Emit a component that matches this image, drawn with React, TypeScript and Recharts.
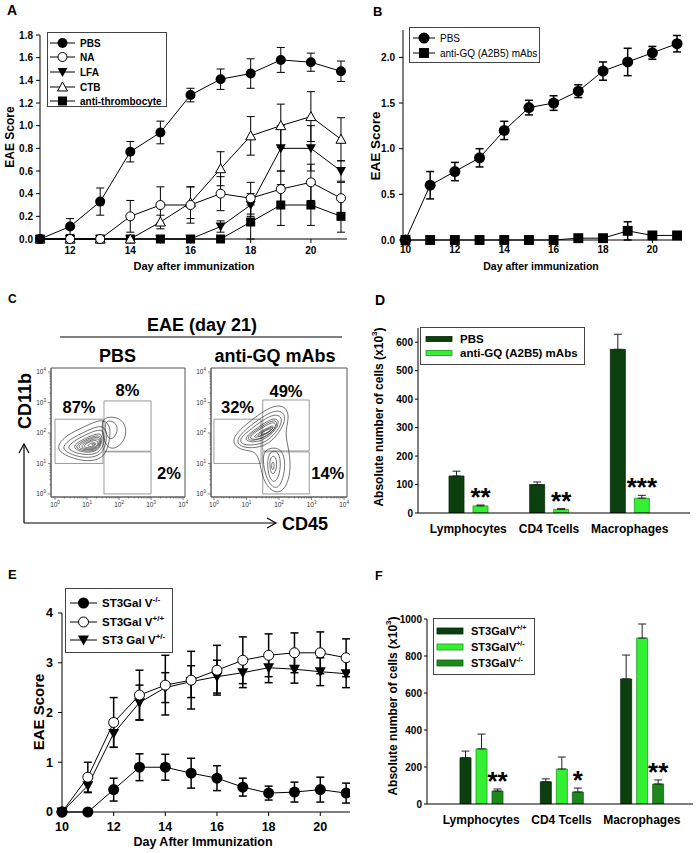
import React from "react";
import {
  LineChart,
  Line,
  XAxis,
  YAxis,
  ErrorBar,
  Legend,
  BarChart,
  Bar,
  LabelList,
  ComposedChart,
  ReferenceArea,
} from "recharts";

const FONT = "'Liberation Sans', Arial, Helvetica, sans-serif";
const DARK = "#0b3f0d";
const LIGHT = "#33f033";
const MID = "#1b8a1b";

// ---- A: EAE score after treatments ----
const daysA = [11, 12, 13, 14, 15, 16, 17, 18, 19, 20, 21];
const pbsA = [0, 0.11, 0.33, 0.77, 0.94, 1.27, 1.41, 1.46, 1.58, 1.56, 1.48];
const pbsAErr = [0, 0.07, 0.12, 0.09, 0.1, 0.06, 0.09, 0.13, 0.11, 0.08, 0.09];
const naA = [0, 0, 0, 0.2, 0.3, 0.3, 0.4, 0.36, 0.44, 0.5, 0.36];
const naAErr = [0, 0, 0, 0.14, 0.16, 0.16, 0.15, 0.14, 0.16, 0.16, 0.14];
const lfaA = [0, 0, 0, 0, 0, 0, 0.11, 0.3, 0.8, 0.8, 0.6];
const lfaAErr = [0, 0, 0, 0, 0, 0, 0.05, 0.1, 0.2, 0.2, 0.09];
const ctbA = [0, 0, 0, 0, 0.15, 0.32, 0.62, 0.91, 1.0, 1.08, 0.88];
const ctbAErr = [0, 0, 0, 0, 0.06, 0.14, 0.15, 0.17, 0.19, 0.22, 0.19];
const thrA = [0, 0, 0, 0, 0, 0, 0, 0.15, 0.3, 0.3, 0.2];
const thrAErr = [0, 0, 0, 0, 0, 0, 0, 0.15, 0.18, 0.18, 0.14];
const ticksAX = [12, 14, 16, 18, 20];
const ticksAY = [0, 0.2, 0.4, 0.6, 0.8, 1.0, 1.2, 1.4, 1.6, 1.8];

// ---- B: PBS vs anti-GQ ----
const daysB = [10, 11, 12, 13, 14, 15, 16, 17, 18, 19, 20, 21];
const pbsB = [0, 0.6, 0.75, 0.9, 1.2, 1.45, 1.5, 1.63, 1.85, 1.95, 2.05, 2.15];
const pbsBErr = [0, 0.15, 0.1, 0.1, 0.1, 0.08, 0.08, 0.07, 0.1, 0.15, 0.07, 0.09];
const gqB = [0, 0, 0, 0, 0, 0, 0, 0.02, 0.02, 0.1, 0.05, 0.05];
const gqBErr = [0, 0, 0, 0, 0, 0, 0, 0.02, 0.02, 0.1, 0.02, 0.02];
const ticksBX = [10, 12, 14, 16, 18, 20];
const ticksBY = [0, 0.5, 1.0, 1.5, 2.0];

// ---- C: flow cytometry (log10 units) ----
const logMajor = [0, 1, 2, 3, 4];
const logMinor = [0.301, 0.477, 0.602, 0.699, 0.778, 0.845, 0.903, 0.954];
const logTicks = logMajor.concat(
  [0, 1, 2, 3].flatMap((d) => logMinor.map((m) => d + m)),
);
const gatesPbs = [
  { x1: 0, x2: 1.5, y1: 1.0, y2: 2.45, pct: "87%" },
  { x1: 1.53, x2: 3.0, y1: 1.4, y2: 3.05, pct: "8%" },
  { x1: 1.53, x2: 3.0, y1: 0, y2: 1.38, pct: "2%" },
];
const gatesGq = [
  { x1: 0, x2: 1.45, y1: 1.0, y2: 2.45, pct: "32%" },
  { x1: 1.5, x2: 2.93, y1: 1.41, y2: 3.08, pct: "49%" },
  { x1: 1.5, x2: 2.93, y1: 0, y2: 1.38, pct: "14%" },
];
type Pt = { x: number; y: number };
const pts = (a: number[][]): Pt[] => a.map(([x, y]) => ({ x, y }));
const contoursPbs: Pt[][] = [
  pts([[1.4, 2.45], [1.75, 2.55], [2.1, 2.45], [2.25, 2.1], [2.15, 1.7], [1.85, 1.45], [1.55, 1.55]]),
  pts([[1.5, 2.38], [1.8, 2.42], [1.98, 2.2], [1.9, 1.88], [1.65, 1.72]]),
  pts([[0.05, 1.55], [0.3, 1.88], [0.7, 2.1], [1.1, 2.3], [1.45, 2.45], [1.75, 2.28], [1.7, 1.7], [1.55, 1.2], [1.1, 1.05], [0.6, 1.15], [0.2, 1.33]]),
  pts([[0.22, 1.55], [0.5, 1.82], [0.9, 2.02], [1.3, 2.22], [1.58, 2.22], [1.63, 1.75], [1.47, 1.28], [1.05, 1.17], [0.6, 1.25], [0.33, 1.4]]),
  pts([[0.4, 1.56], [0.65, 1.78], [1.0, 1.96], [1.35, 2.12], [1.53, 2.06], [1.55, 1.7], [1.4, 1.35], [1.05, 1.27], [0.65, 1.34], [0.45, 1.45]]),
  pts([[0.55, 1.56], [0.8, 1.75], [1.1, 1.9], [1.38, 2.0], [1.48, 1.9], [1.45, 1.6], [1.3, 1.4], [1.0, 1.35], [0.7, 1.42]]),
  pts([[0.62, 1.56], [0.88, 1.74], [1.15, 1.87], [1.4, 1.94], [1.45, 1.75], [1.36, 1.45], [1.03, 1.39], [0.75, 1.45]]),
  pts([[0.7, 1.57], [0.95, 1.73], [1.2, 1.85], [1.4, 1.88], [1.42, 1.65], [1.3, 1.48], [1.05, 1.43], [0.8, 1.48]]),
  pts([[0.78, 1.57], [1.02, 1.72], [1.25, 1.82], [1.4, 1.8], [1.36, 1.56], [1.15, 1.46], [0.9, 1.49]]),
  pts([[0.85, 1.58], [1.1, 1.72], [1.3, 1.78], [1.37, 1.65], [1.25, 1.52], [1.0, 1.5]]),
  pts([[1.0, 1.6], [1.2, 1.7], [1.31, 1.66], [1.23, 1.56], [1.05, 1.55]]),
  pts([[1.1, 1.62], [1.26, 1.67], [1.23, 1.58]]),
];
const contoursGq: Pt[][] = [
  pts([[0.5, 1.75], [0.9, 2.22], [1.4, 2.62], [1.85, 2.92], [2.22, 2.87], [2.32, 2.5], [2.17, 2.0], [2.32, 1.4], [2.37, 0.7], [2.17, 0.08], [1.8, 0.02], [1.48, 0.5], [1.4, 1.2], [1.2, 1.43], [0.8, 1.43]]),
  pts([[0.65, 1.75], [1.0, 2.15], [1.45, 2.5], [1.85, 2.75], [2.15, 2.7], [2.2, 2.4], [2.0, 2.0], [1.7, 1.65], [1.3, 1.5], [0.85, 1.52]]),
  pts([[0.75, 1.78], [1.1, 2.1], [1.5, 2.42], [1.85, 2.62], [2.08, 2.55], [2.08, 2.3], [1.9, 2.0], [1.6, 1.7], [1.25, 1.6], [0.9, 1.6]]),
  pts([[0.9, 1.8], [1.2, 2.07], [1.55, 2.33], [1.85, 2.5], [2.0, 2.4], [1.95, 2.18], [1.75, 1.95], [1.5, 1.75], [1.15, 1.68]]),
  pts([[0.97, 1.81], [1.25, 2.06], [1.58, 2.29], [1.85, 2.44], [1.96, 2.32], [1.87, 2.12], [1.65, 1.9], [1.2, 1.72]]),
  pts([[1.05, 1.83], [1.3, 2.05], [1.6, 2.25], [1.85, 2.38], [1.92, 2.25], [1.8, 2.05], [1.55, 1.85], [1.25, 1.77]]),
  pts([[1.2, 1.87], [1.45, 2.05], [1.7, 2.2], [1.85, 2.25], [1.8, 2.1], [1.55, 1.93], [1.3, 1.85]]),
  pts([[1.3, 1.9], [1.55, 2.08], [1.78, 2.2], [1.83, 2.17], [1.68, 2.02], [1.4, 1.89]]),
  pts([[1.4, 1.95], [1.65, 2.12], [1.8, 2.16], [1.7, 2.03], [1.5, 1.95]]),
  pts([[1.55, 1.5], [2.1, 1.55], [2.22, 0.9], [2.05, 0.22], [1.8, 0.17], [1.58, 0.6], [1.5, 1.1]]),
  pts([[1.65, 1.4], [2.0, 1.45], [2.07, 0.9], [1.95, 0.42], [1.77, 0.38], [1.64, 0.75]]),
  pts([[1.72, 1.25], [1.92, 1.25], [1.94, 0.85], [1.82, 0.58], [1.71, 0.8]]),
  pts([[1.77, 1.05], [1.86, 1.05], [1.85, 0.8], [1.77, 0.78]]),
];

// ---- D: cell counts, PBS vs anti-GQ ----
const cellTypes = ["Lymphocytes", "CD4 Tcells", "Macrophages"];
const pbsCells = [130, 100, 575];
const pbsCellsErr = [17, 9, 53];
const gqCells = [25, 13, 52];
const gqCellsErr = [3, 2, 10];
const gqStars = ["**", "**", "***"];
const ticksD = [0, 100, 200, 300, 400, 500, 600];

// ---- E: ST3Gal V genotypes ----
const daysE = [10, 11, 12, 13, 14, 15, 16, 17, 18, 19, 20, 21];
const koE = [0, 0, 0.45, 0.9, 0.9, 0.78, 0.68, 0.5, 0.38, 0.4, 0.45, 0.38];
const koEErr = [0, 0, 0.23, 0.27, 0.26, 0.3, 0.25, 0.18, 0.14, 0.2, 0.25, 0.2];
const wtE = [0, 0.7, 1.8, 2.35, 2.55, 2.65, 2.85, 3.05, 3.15, 3.2, 3.2, 3.1];
const wtEErr = [0, 0.3, 0.5, 0.5, 0.6, 0.58, 0.5, 0.47, 0.43, 0.4, 0.42, 0.38];
const hetE = [0, 0.53, 1.58, 2.2, 2.5, 2.62, 2.72, 2.8, 2.9, 2.87, 2.82, 2.78];
const hetEErr = [0, 0.14, 0.28, 0.35, 0.3, 0.32, 0.33, 0.3, 0.3, 0.28, 0.28, 0.28];
const ticksEX = [10, 12, 14, 16, 18, 20];
const ticksEY = [0, 1, 2, 3, 4];

// ---- F: cell counts by genotype ----
const wtCells = [250, 120, 676];
const wtCellsErr = [36, 16, 129];
const hetCells = [298, 189, 897];
const hetCellsErr = [80, 65, 76];
const koCells = [70, 65, 108];
const koCellsErr = [11, 21, 22];
const koStars = ["**", "*", "**"];
const ticksF = [0, 200, 400, 600, 800, 1000];

type Kind = "fc" | "oc" | "dt" | "ut" | "fs";

function Marker({ kind, cx, cy, s }: { kind: Kind; cx: number; cy: number; s: number }) {
  const h = s / 2;
  if (kind === "fc") return <circle cx={cx} cy={cy} r={h} fill="#000" />;
  if (kind === "oc")
    return <circle cx={cx} cy={cy} r={h - 0.5} fill="#fff" stroke="#000" strokeWidth={1} />;
  if (kind === "dt")
    return (
      <polygon
        points={`${cx - h},${cy - h * 0.8} ${cx + h},${cy - h * 0.8} ${cx},${cy + h}`}
        fill="#000"
      />
    );
  if (kind === "ut")
    return (
      <polygon
        points={`${cx},${cy - h} ${cx + h},${cy + h * 0.8} ${cx - h},${cy + h * 0.8}`}
        fill="#fff"
        stroke="#000"
        strokeWidth={1}
      />
    );
  return <rect x={cx - h * 0.9} y={cy - h * 0.9} width={h * 1.8} height={h * 1.8} fill="#000" />;
}

const dotOf = (kind: Kind, s: number) => (p: any) =>
  p.cx == null ? <g key={`n${p.index}`} /> : <Marker key={`d${p.index}`} kind={kind} cx={p.cx} cy={p.cy} s={s} />;

interface LegendRow {
  label: React.ReactNode;
  kind?: Kind;
  fill?: string;
  stroke?: string;
}

function LegendBox(props: {
  rows: LegendRow[];
  w: number;
  h: number;
  ys: number[];
  sample: [number, number];
  textX: number;
  fontSize: number;
  weight?: string;
  size?: number;
  swatchH?: number;
}) {
  const { rows, w, h, ys, sample, textX, fontSize, weight = "bold", size = 10, swatchH } = props;
  return (
    <svg width={w} height={h} style={{ display: "block" }}>
      <rect x={0.5} y={0.5} width={w - 1} height={h - 1} fill="#fff" stroke="#444" />
      {rows.map((r, i) => (
        <g key={i}>
          {swatchH ? (
            <rect
              x={sample[0]}
              y={ys[i] - swatchH / 2}
              width={sample[1] - sample[0]}
              height={swatchH}
              fill={r.fill}
              stroke={r.stroke}
              strokeWidth={0.8}
            />
          ) : (
            <>
              <line x1={sample[0]} x2={sample[1]} y1={ys[i]} y2={ys[i]} stroke="#000" />
              <Marker kind={r.kind as Kind} cx={(sample[0] + sample[1]) / 2} cy={ys[i]} s={size} />
            </>
          )}
          <text
            x={textX}
            y={ys[i]}
            dominantBaseline="central"
            fontFamily={FONT}
            fontSize={fontSize}
            fontWeight={weight}
            fill="#000"
          >
            {r.label}
          </text>
        </g>
      ))}
    </svg>
  );
}

function AxisTitle(props: any) {
  const { tx, ty, rot, size, children } = props;
  return (
    <text
      x={tx}
      y={ty}
      transform={rot ? `rotate(-90 ${tx} ${ty})` : undefined}
      textAnchor="middle"
      dominantBaseline={rot ? "central" : "auto"}
      fontFamily={FONT}
      fontSize={size}
      fontWeight="bold"
      fill="#000"
    >
      {children}
    </text>
  );
}

const tickStyle = (size: number) => ({
  fontSize: size,
  fontWeight: "bold",
  fill: "#000",
  fontFamily: FONT,
});

function PanelA() {
  const rows = daysA.map((d, i) => ({
    day: d,
    pbs: pbsA[i],
    pbsErr: pbsAErr[i],
    na: naA[i],
    naErr: naAErr[i],
    lfa: lfaA[i],
    lfaErr: lfaAErr[i],
    ctb: ctbA[i],
    ctbErr: ctbAErr[i],
    thr: thrA[i],
    thrErr: thrAErr[i],
  }));
  const series: { key: string; kind: Kind; name: string }[] = [
    { key: "thr", kind: "fs", name: "anti-thrombocyte" },
    { key: "lfa", kind: "dt", name: "LFA" },
    { key: "ctb", kind: "ut", name: "CTB" },
    { key: "na", kind: "oc", name: "NA" },
    { key: "pbs", kind: "fc", name: "PBS" },
  ];
  const legendRows: LegendRow[] = [
    { label: "PBS", kind: "fc" },
    { label: "NA", kind: "oc" },
    { label: "LFA", kind: "dt" },
    { label: "CTB", kind: "ut" },
    { label: "anti-thrombocyte", kind: "fs" },
  ];
  return (
    <LineChart width={350} height={290} data={rows} margin={{ top: 35, right: 3, bottom: 11, left: 0 }}>
      <XAxis
        dataKey="day"
        type="number"
        domain={[11, 21.2]}
        ticks={ticksAX}
        interval={0}
        tick={tickStyle(10)}
        tickSize={4}
        tickMargin={4}
        stroke="#000"
        height={40}
        label={<AxisTitle tx={194} ty={270} size={11}>Day after immunization</AxisTitle>}
      />
      <YAxis
        type="number"
        domain={[0, 1.8]}
        ticks={ticksAY}
        interval={0}
        tickFormatter={(v: number) => v.toFixed(1)}
        tick={tickStyle(10)}
        tickSize={4}
        tickMargin={3}
        stroke="#000"
        width={40}
        label={<AxisTitle tx={10} ty={137} rot size={12}>EAE Score</AxisTitle>}
      />
      <Legend
        layout="vertical"
        align="center"
        verticalAlign="middle"
        wrapperStyle={{ left: 47, top: 32, width: 120, height: 75 }}
        content={() => (
          <LegendBox rows={legendRows} w={120} h={75} ys={[11, 25, 40, 55, 69]} sample={[3, 28]} textX={33} fontSize={10} size={10} />
        )}
      />
      {series.map((s) => (
        <Line
          key={s.key}
          dataKey={s.key}
          name={s.name}
          type="linear"
          stroke="#000"
          strokeWidth={1}
          dot={dotOf(s.kind, 10)}
          activeDot={false}
          isAnimationActive={false}
        >
          <ErrorBar dataKey={`${s.key}Err`} width={4} stroke="#000" strokeWidth={1} />
        </Line>
      ))}
    </LineChart>
  );
}

function PanelB() {
  const rows = daysB.map((d, i) => ({ day: d, pbs: pbsB[i], pbsErr: pbsBErr[i], gq: gqB[i], gqErr: gqBErr[i] }));
  const legendRows: LegendRow[] = [
    { label: "PBS", kind: "fc" },
    { label: "anti-GQ (A2B5) mAbs", kind: "fs" },
  ];
  return (
    <LineChart width={347} height={290} data={rows} margin={{ top: 30, right: 15, bottom: 10, left: 0 }}>
      <XAxis
        dataKey="day"
        type="number"
        domain={[9.9, 21.2]}
        ticks={ticksBX}
        interval={0}
        tick={tickStyle(10)}
        tickSize={3}
        tickMargin={3}
        stroke="#000"
        height={40}
        label={<AxisTitle tx={191} ty={270} size={10.5}>Day after immunization</AxisTitle>}
      />
      <YAxis
        type="number"
        domain={[0, 2.3]}
        ticks={ticksBY}
        interval={0}
        tickFormatter={(v: number) => v.toFixed(1)}
        tick={tickStyle(10)}
        tickSize={4}
        tickMargin={4}
        stroke="#000"
        width={53}
        label={<AxisTitle tx={25} ty={146} rot size={13.5}>EAE Score</AxisTitle>}
      />
      <Legend
        layout="vertical"
        align="center"
        verticalAlign="middle"
        wrapperStyle={{ left: 59, top: 27, width: 131, height: 36 }}
        content={() => (
          <LegendBox rows={legendRows} w={131} h={36} ys={[11, 26]} sample={[4, 26]} textX={31} fontSize={10} weight="normal" size={11} />
        )}
      />
      <Line dataKey="gq" type="linear" stroke="#000" dot={dotOf("fs", 11)} activeDot={false} isAnimationActive={false}>
        <ErrorBar dataKey="gqErr" width={4} stroke="#000" />
      </Line>
      <Line dataKey="pbs" type="linear" stroke="#000" dot={dotOf("fc", 11)} activeDot={false} isAnimationActive={false}>
        <ErrorBar dataKey="pbsErr" width={4} stroke="#000" />
      </Line>
    </LineChart>
  );
}

function LogTick(props: any) {
  const { x, y, payload, axis } = props;
  const v = payload.value as number;
  const major = Math.abs(v - Math.round(v)) < 1e-6;
  const len = major ? 3 : 1.5;
  if (axis === "x") {
    return (
      <g>
        <line x1={x} x2={x} y1={y} y2={y + len} stroke="#555" strokeWidth={0.7} />
        {major && (
          <text x={x} y={y + 10} textAnchor="middle" fontSize={6.5} fontFamily={FONT} fill="#333">
            10<tspan dy={-3} fontSize={4.5}>{Math.round(v)}</tspan>
          </text>
        )}
      </g>
    );
  }
  return (
    <g>
      <line x1={x} x2={x - len} y1={y} y2={y} stroke="#555" strokeWidth={0.7} />
      {major && (
        <text x={x - 5} y={y + 2.5} textAnchor="end" fontSize={6.5} fontFamily={FONT} fill="#333">
          10<tspan dy={-3} fontSize={4.5}>{Math.round(v)}</tspan>
        </text>
      )}
    </g>
  );
}

const yDomainC: [number, number] = [-0.1, 4.13];

function FlowPlot({
  contours,
  gates,
  xDomain,
  right,
  labelPos,
  labelOffset,
}: {
  contours: Pt[][];
  gates: typeof gatesPbs;
  xDomain: [number, number];
  right: number;
  labelPos: ("top" | "right")[];
  labelOffset: number[];
}) {
  return (
    <ComposedChart width={160} height={150} margin={{ top: 8, right, bottom: 3, left: 0 }}>
      <XAxis
        type="number"
        dataKey="x"
        domain={xDomain}
        ticks={logTicks}
        interval={0}
        tickSize={0}
        tickMargin={0}
        tick={<LogTick axis="x" />}
        stroke="#666"
        height={10}
        allowDataOverflow
      />
      <YAxis
        type="number"
        dataKey="y"
        domain={yDomainC}
        ticks={logTicks}
        interval={0}
        tickSize={0}
        tickMargin={0}
        tick={<LogTick axis="y" />}
        stroke="#666"
        width={21}
        allowDataOverflow
      />
      <ReferenceArea
        x1={xDomain[0]}
        x2={xDomain[1]}
        y1={yDomainC[0]}
        y2={yDomainC[1]}
        fill="none"
        stroke="#555"
        strokeWidth={1}
      />
      {contours.map((c, i) => (
        <Line
          key={i}
          data={c}
          dataKey="y"
          type="basisClosed"
          dot={false}
          activeDot={false}
          stroke="#262626"
          strokeWidth={0.65}
          isAnimationActive={false}
        />
      ))}
      {gates.map((g, i) => (
        <ReferenceArea
          key={g.pct}
          x1={g.x1}
          x2={g.x2}
          y1={g.y1}
          y2={g.y2}
          fill="none"
          stroke="#9a9a9a"
          strokeWidth={1}
          label={{
            value: g.pct,
            position: labelPos[i],
            offset: labelOffset[i],
            fill: "#000",
            fontSize: 16.5,
            fontWeight: "bold",
            fontFamily: FONT,
          }}
        />
      ))}
    </ComposedChart>
  );
}

function starLabel(values: number[], errs: number[], stars: string[]) {
  return (p: any) => {
    const { x, y, width, height, index } = p;
    const v = values[index];
    if (!v || !height) return null;
    const errTop = y - (errs[index] * height) / v;
    return (
      <text
        key={`s${index}`}
        x={x + width / 2}
        y={errTop + 1}
        textAnchor="middle"
        fontFamily={FONT}
        fontSize={26}
        fontWeight="bold"
        fill="#000"
      >
        {stars[index]}
      </text>
    );
  };
}

function Cells3Title({ tx, ty }: { tx: number; ty: number }) {
  return (
    <AxisTitle tx={tx} ty={ty} rot size={12}>
      Absolute number of cells (x10<tspan dy={-5} fontSize={8}>3</tspan>
      <tspan dy={5}>)</tspan>
    </AxisTitle>
  );
}

function PanelD() {
  const rows = cellTypes.map((c, i) => ({
    cell: c,
    pbs: pbsCells[i],
    pbsErr: [0, pbsCellsErr[i]],
    gq: gqCells[i],
    gqErr: [0, gqCellsErr[i]],
  }));
  const legendRows: LegendRow[] = [
    { label: "PBS", fill: DARK, stroke: "#072807" },
    { label: "anti-GQ (A2B5) mAbs", fill: LIGHT, stroke: "#1f9a1f" },
  ];
  return (
    <BarChart width={347} height={260} data={rows} margin={{ top: 38, right: 7, bottom: 7, left: 0 }} barSize={15} barGap={9}>
      <XAxis
        dataKey="cell"
        tickLine={false}
        tickSize={0}
        tickMargin={11}
        padding={{ left: 10, right: 20 }}
        stroke="#000"
        tick={tickStyle(12)}
        height={30}
        interval={0}
      />
      <YAxis
        domain={[0, 650]}
        ticks={ticksD}
        interval={0}
        width={68}
        tickSize={3}
        tickMargin={2}
        stroke="#000"
        tick={tickStyle(10)}
        allowDataOverflow
        label={<Cells3Title tx={29} ty={127} />}
      />
      <Legend
        layout="vertical"
        align="center"
        verticalAlign="middle"
        wrapperStyle={{ left: 70, top: 37, width: 165, height: 38 }}
        content={() => (
          <LegendBox rows={legendRows} w={165} h={38} ys={[12, 26]} sample={[6, 32]} textX={40} fontSize={11.5} swatchH={5} />
        )}
      />
      <Bar dataKey="pbs" fill={DARK} stroke="#072807" strokeWidth={0.8} isAnimationActive={false}>
        <ErrorBar dataKey="pbsErr" width={4} stroke="#222" strokeWidth={1} />
      </Bar>
      <Bar dataKey="gq" fill={LIGHT} stroke="#1f9a1f" strokeWidth={0.8} isAnimationActive={false}>
        <ErrorBar dataKey="gqErr" width={4} stroke="#222" strokeWidth={1} />
        <LabelList dataKey="gq" content={starLabel(gqCells, gqCellsErr, gqStars)} />
      </Bar>
    </BarChart>
  );
}

function PanelE() {
  const rows = daysE.map((d, i) => ({
    day: d,
    ko: koE[i],
    koErr: koEErr[i],
    wt: wtE[i],
    wtErr: wtEErr[i],
    het: hetE[i],
    hetErr: hetEErr[i],
  }));
  const legendRows: LegendRow[] = [
    { label: <>ST3Gal V<tspan dy={-4} fontSize={8}>-/-</tspan></>, kind: "fc" },
    { label: <>ST3Gal V<tspan dy={-4} fontSize={8}>+/+</tspan></>, kind: "oc" },
    { label: <>ST3 Gal V<tspan dy={-4} fontSize={8}>+/-</tspan></>, kind: "dt" },
  ];
  return (
    <LineChart width={350} height={303} data={rows} margin={{ top: 63, right: 0, bottom: 3, left: 0 }}>
      <XAxis
        dataKey="day"
        type="number"
        domain={[10, 21.15]}
        ticks={ticksEX}
        interval={0}
        tick={tickStyle(12.5)}
        tickSize={4}
        tickMargin={6}
        stroke="#000"
        height={38}
        label={<AxisTitle tx={203} ty={296} size={12.5}>Day After Immunization</AxisTitle>}
      />
      <YAxis
        type="number"
        domain={[0, 4]}
        ticks={ticksEY}
        interval={0}
        tick={tickStyle(12.5)}
        tickSize={4}
        tickMargin={5}
        stroke="#000"
        width={62}
        label={<AxisTitle tx={38} ty={162} rot size={15}>EAE Score</AxisTitle>}
      />
      <Legend
        layout="vertical"
        align="center"
        verticalAlign="middle"
        wrapperStyle={{ left: 65, top: 38, width: 108, height: 65 }}
        content={() => (
          <LegendBox rows={legendRows} w={108} h={65} ys={[15, 34, 52]} sample={[5, 32]} textX={37} fontSize={11.5} size={11} />
        )}
      />
      <Line dataKey="het" type="linear" stroke="#000" dot={dotOf("dt", 11)} activeDot={false} isAnimationActive={false}>
        <ErrorBar dataKey="hetErr" width={4} stroke="#000" />
      </Line>
      <Line dataKey="wt" type="linear" stroke="#000" dot={dotOf("oc", 11)} activeDot={false} isAnimationActive={false}>
        <ErrorBar dataKey="wtErr" width={4} stroke="#000" />
      </Line>
      <Line dataKey="ko" type="linear" stroke="#000" dot={dotOf("fc", 11)} activeDot={false} isAnimationActive={false}>
        <ErrorBar dataKey="koErr" width={4} stroke="#000" />
      </Line>
    </LineChart>
  );
}

function PanelF() {
  const rows = cellTypes.map((c, i) => ({
    cell: c,
    wt: wtCells[i],
    wtErr: [0, wtCellsErr[i]],
    het: hetCells[i],
    hetErr: [0, hetCellsErr[i]],
    ko: koCells[i],
    koErr: [0, koCellsErr[i]],
  }));
  const sup = (s: string) => (
    <>
      ST3GalV<tspan dy={-4} fontSize={7}>{s}</tspan>
    </>
  );
  const legendRows: LegendRow[] = [
    { label: sup("+/+"), fill: DARK, stroke: "#072807" },
    { label: sup("+/-"), fill: LIGHT, stroke: "#1f9a1f" },
    { label: sup("-/-"), fill: MID, stroke: "#126312" },
  ];
  return (
    <BarChart width={347} height={303} data={rows} margin={{ top: 69, right: 4, bottom: 9, left: 0 }} barSize={11} barGap={5}>
      <XAxis
        dataKey="cell"
        tickLine={false}
        tickSize={0}
        tickMargin={11}
        padding={{ left: 14, right: 11 }}
        stroke="#000"
        tick={tickStyle(12)}
        height={40}
        interval={0}
      />
      <YAxis
        domain={[0, 1000]}
        ticks={ticksF}
        interval={0}
        width={77}
        tickSize={3}
        tickMargin={2}
        stroke="#000"
        tick={tickStyle(10)}
        allowDataOverflow
        label={<Cells3Title tx={43} ty={156} />}
      />
      <Legend
        layout="vertical"
        align="center"
        verticalAlign="middle"
        wrapperStyle={{ left: 83, top: 68, width: 102, height: 57 }}
        content={() => (
          <LegendBox rows={legendRows} w={102} h={57} ys={[13, 29, 45]} sample={[4, 30]} textX={38} fontSize={11} swatchH={6} />
        )}
      />
      <Bar dataKey="wt" fill={DARK} stroke="#072807" strokeWidth={0.8} isAnimationActive={false}>
        <ErrorBar dataKey="wtErr" width={4} stroke="#222" strokeWidth={1} />
      </Bar>
      <Bar dataKey="het" fill={LIGHT} stroke="#1f9a1f" strokeWidth={0.8} isAnimationActive={false}>
        <ErrorBar dataKey="hetErr" width={4} stroke="#222" strokeWidth={1} />
      </Bar>
      <Bar dataKey="ko" fill={MID} stroke="#126312" strokeWidth={0.8} isAnimationActive={false}>
        <ErrorBar dataKey="koErr" width={4} stroke="#222" strokeWidth={1} />
        <LabelList dataKey="ko" content={starLabel(koCells, koCellsErr, koStars)} />
      </Bar>
    </BarChart>
  );
}

function Overlay() {
  const t = { fontFamily: FONT, fontWeight: "bold" as const, fill: "#000" };
  return (
    <svg width={697} height={853} style={{ position: "absolute", left: 0, top: 0, pointerEvents: "none" }}>
      <text x={7} y={15} fontSize={14} {...t}>A</text>
      <text x={373} y={16} fontSize={13} {...t}>B</text>
      <text x={8} y={303} fontSize={12} {...t}>C</text>
      <text x={375} y={305} fontSize={14} {...t}>D</text>
      <text x={8} y={579} fontSize={13} {...t}>E</text>
      <text x={375} y={580} fontSize={12.5} {...t}>F</text>

      <text x={202} y={331} fontSize={18} textAnchor="middle" {...t}>EAE (day 21)</text>
      <line x1={60} x2={342} y1={337} y2={337} stroke="#000" strokeWidth={1} />
      <text x={117.5} y={362} fontSize={18} textAnchor="middle" {...t}>PBS</text>
      <text x={275} y={362} fontSize={18} textAnchor="middle" {...t}>anti-GQ mAbs</text>
      <text
        x={25}
        y={401}
        fontSize={18}
        textAnchor="middle"
        dominantBaseline="central"
        transform="rotate(-90 25 401)"
        {...t}
      >
        CD11b
      </text>
      <line x1={24} x2={24} y1={523} y2={445} stroke="#000" strokeWidth={1.2} />
      <polyline points="19,453 24,444 29,453" fill="none" stroke="#000" strokeWidth={1.2} />
      <line x1={24} x2={275} y1={523} y2={523} stroke="#000" strokeWidth={1.2} />
      <polyline points="267,518 276,523 267,528" fill="none" stroke="#000" strokeWidth={1.2} />
      <text x={282} y={530} fontSize={18} {...t}>CD45</text>
    </svg>
  );
}

export default function App() {
  return (
    <div
      style={{
        position: "relative",
        width: 697,
        height: 853,
        background: "#fff",
        fontFamily: FONT,
        overflow: "hidden",
      }}
    >
      <style>{`body{margin:0}`}</style>
      <div style={{ position: "absolute", left: 0, top: 0 }}>
        <PanelA />
      </div>
      <div style={{ position: "absolute", left: 350, top: 0 }}>
        <PanelB />
      </div>
      <div style={{ position: "absolute", left: 30, top: 360 }}>
        <FlowPlot
          contours={contoursPbs}
          gates={gatesPbs}
          xDomain={[-0.125, 4.06]}
          right={5}
          labelPos={["top", "top", "right"]}
          labelOffset={[6, 5, 6]}
        />
      </div>
      <div style={{ position: "absolute", left: 190, top: 360 }}>
        <FlowPlot
          contours={contoursGq}
          gates={gatesGq}
          xDomain={[-0.09, 4.09]}
          right={3}
          labelPos={["top", "top", "right"]}
          labelOffset={[6, 3, 2]}
        />
      </div>
      <div style={{ position: "absolute", left: 350, top: 290 }}>
        <PanelD />
      </div>
      <div style={{ position: "absolute", left: 0, top: 550 }}>
        <PanelE />
      </div>
      <div style={{ position: "absolute", left: 350, top: 550 }}>
        <PanelF />
      </div>
      <Overlay />
    </div>
  );
}
